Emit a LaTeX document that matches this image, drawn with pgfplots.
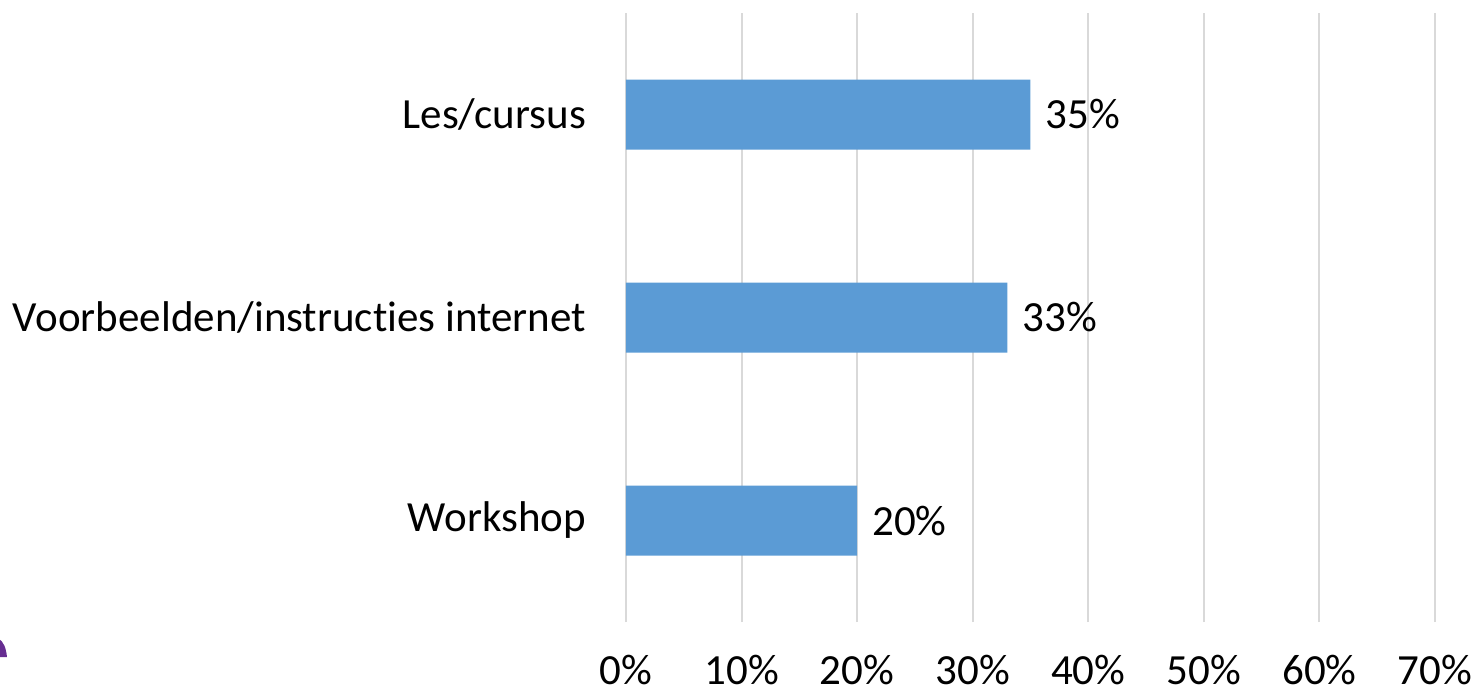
\documentclass[border=0pt]{standalone}
\usepackage{fontspec}
\setmainfont{Carlito}[Ligatures={NoCommon}]
\usepackage{pgfplots}
\pgfplotsset{compat=1.18}
\definecolor{barblue}{RGB}{91,155,213}
\definecolor{gridgray}{RGB}{217,217,217}
\definecolor{logopurple}{RGB}{102,45,145}
\begin{document}
\begin{tikzpicture}
\useasboundingbox (-313pt,-35.5pt) rectangle (425pt,311pt);
\begin{axis}[
  at={(0,0)}, anchor=south west,
  scale only axis,
  width=404.5pt, height=304.5pt,
  xbar, bar width=35pt,
  xmin=0, xmax=70,
  ymin=-0.5, ymax=2.5,
  xtick={0,10,...,70},
  xticklabels={0\%,10\%,20\%,30\%,40\%,50\%,60\%,70\%},
  ytick={0,1,2},
  yticklabels={Workshop,Voorbeelden/instructies internet,Les/cursus},
  xmajorgrids,
  grid style={gridgray, line width=1pt},
  axis line style={draw=none},
  major tick length=0pt,
  tick label style={font=\fontsize{21.5}{26}\selectfont},
  /pgf/number format/assume math mode=true,
  xticklabel style={yshift=-13pt},
  yticklabel style={xshift=-16.5pt},
  nodes near coords={\pgfmathprintnumber{\pgfplotspointmeta}\%},
  nodes near coords style={font=\fontsize{21.5}{26}\selectfont, anchor=west, xshift=4pt, text=black},
  point meta=x,
  clip=false,
]
\addplot[fill=barblue, draw=none] coordinates {(20,0) (33,1) (35,2)};
\end{axis}
\fill[logopurple] (-314pt,-8pt) .. controls (-311pt,-10pt) and (-310pt,-13pt) .. (-309.5pt,-17.5pt) -- (-314pt,-17.5pt) -- cycle;
\end{tikzpicture}
\end{document}
